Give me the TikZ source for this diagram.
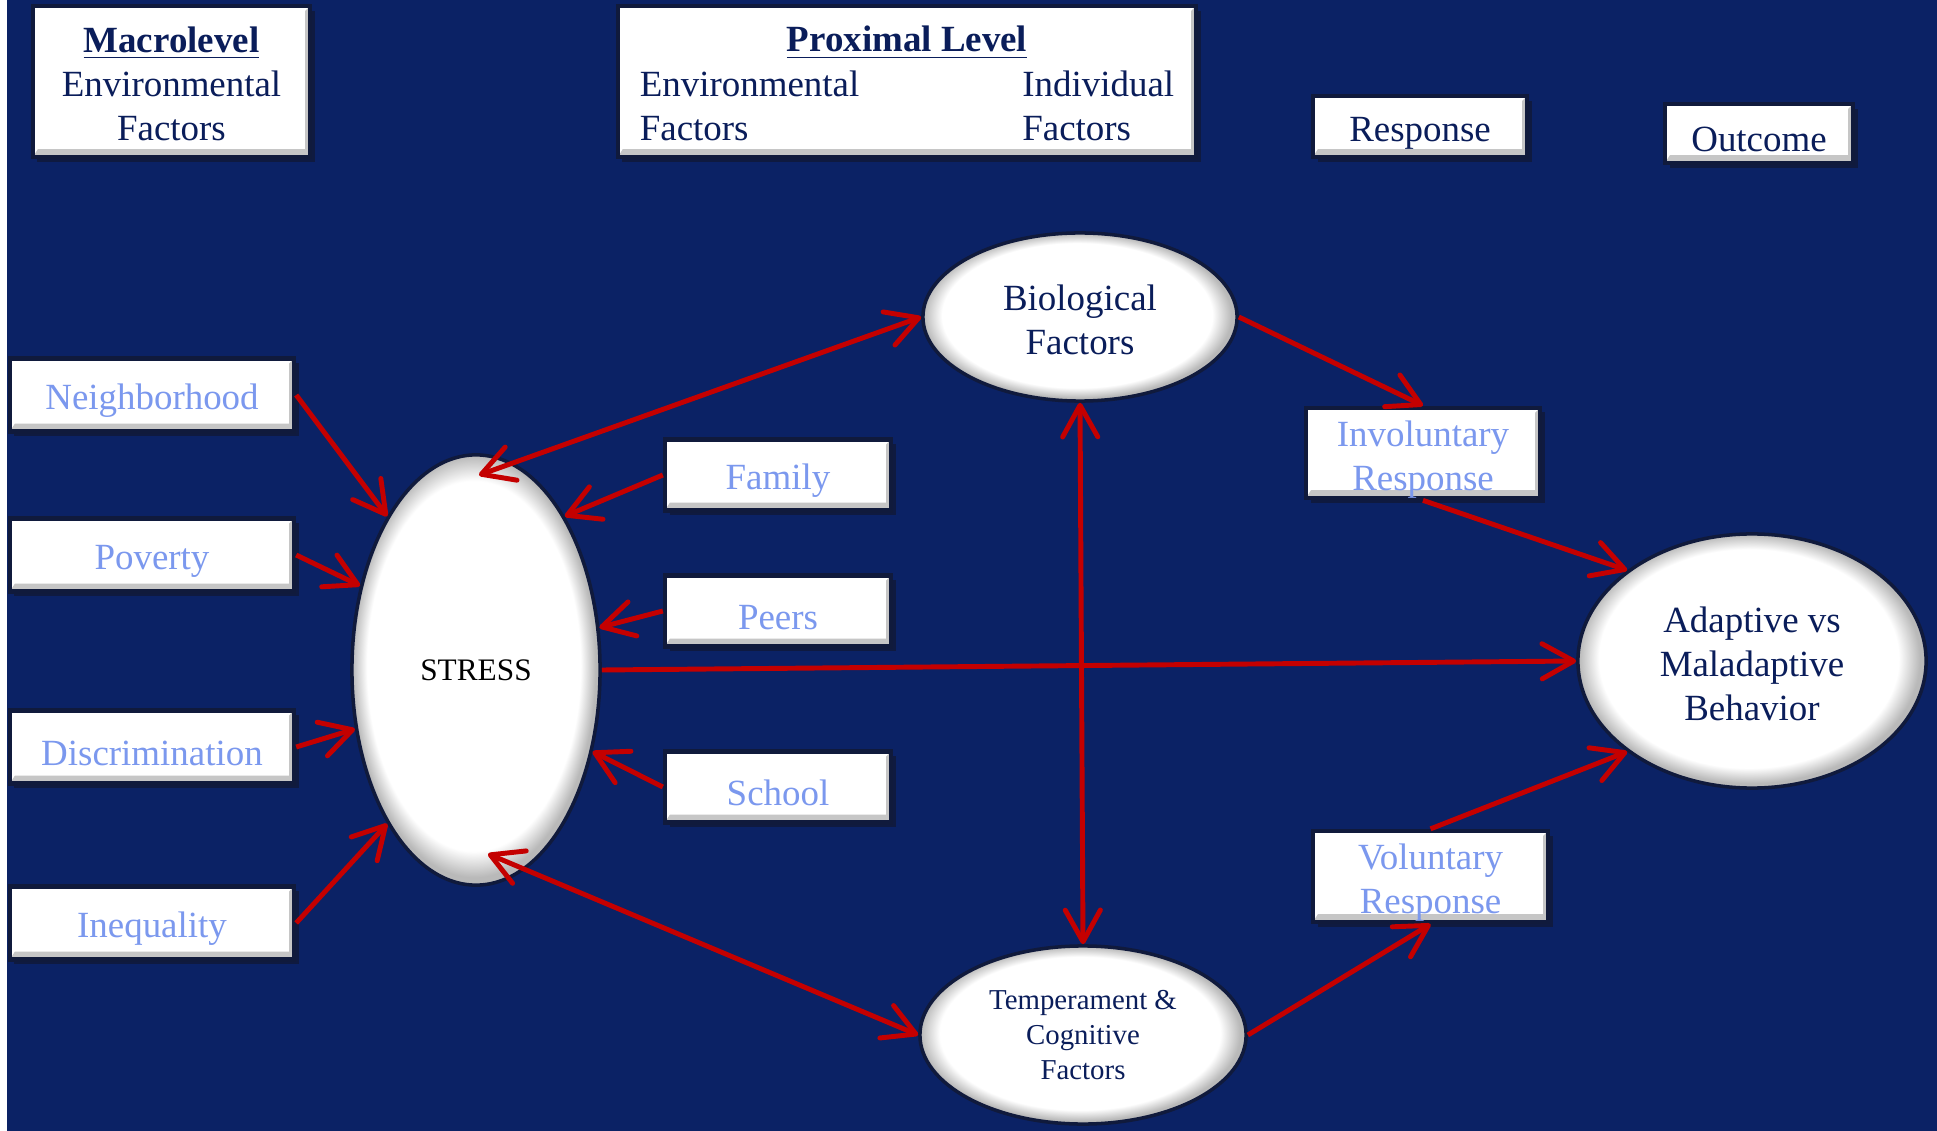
\documentclass[tikz,border=0pt]{standalone}
\usepackage{fontspec}
\setmainfont{Liberation Serif}
\usetikzlibrary{shapes.geometric,arrows.meta,shadows}

\definecolor{bgnavy}{HTML}{0B2265}
\definecolor{textnavy}{HTML}{0A1D5A}
\definecolor{paleblue}{HTML}{7B98EE}
\definecolor{linkred}{HTML}{C40000}
\definecolor{rimnavy}{HTML}{101A3C}

\newcommand{\mainsize}{\fontsize{10.5}{12.6}\selectfont}
\newcommand{\tempsize}{\fontsize{8.2}{9.9}\selectfont}
\newcommand{\stresssize}{\fontsize{8.9}{10.7}\selectfont}
\newcommand{\toprule}[1]{\rule{0pt}{#1}}

\pgfdeclareradialshading{ballrim}{\pgfpoint{-0.8bp}{0.8bp}}{color(0bp)=(white); color(21.5bp)=(white); color(24.5bp)=(gray!55); color(50bp)=(gray!55)}

\tikzset{
  bevelbox/.style={rectangle, fill=white, draw=rimnavy, line width=1.2pt, inner sep=0pt,
    drop shadow={shadow xshift=1.3pt, shadow yshift=-1.3pt, fill=rimnavy, opacity=0.9},
    path picture={
      \fill[gray!45] (path picture bounding box.south west) -- (path picture bounding box.south east)
        -- (path picture bounding box.north east) -- ([shift={(-5,5)}]path picture bounding box.north east)
        -- ([shift={(-5,-8)}]path picture bounding box.south east) -- ([shift={(5,-8)}]path picture bounding box.south west) -- cycle;
    }},
  lowered/.style={execute at begin node={\rule{0pt}{#1}}},
  headbox/.style={bevelbox, text=textnavy, font=\mainsize, align=center},
  factorbox/.style={bevelbox, text=paleblue, font=\mainsize, align=center},
  bubble/.style={ellipse, shading=ballrim, draw=rimnavy, line width=1pt, inner sep=0pt, text=textnavy, align=center},
  link/.style={draw=linkred, line width=1.4pt},
  >={Straight Barb[length=9pt,width=10pt,round]}
}

\begin{document}
\begin{tikzpicture}[x=0.01cm, y=-0.01cm]

\useasboundingbox (0,0) rectangle (1937,1131);
\fill[white] (0,0) rectangle (1937,1131);
\fill[bgnavy] (7,0) rectangle (1937,1131);

% column heads
\node[headbox, minimum width=2.77cm, minimum height=1.51cm] (macro) at (171.5,81.5)
  {\toprule{8.6pt}\underline{\textbf{Macrolevel}}\\Environmental\\Factors};
\node[headbox, minimum width=5.78cm, minimum height=1.51cm] (proximal) at (907,81.5)
  {\begin{tabular}{@{}l@{\hspace{1.63cm}}l@{}}
   \multicolumn{2}{c}{\toprule{12.2pt}\underline{\textbf{Proximal Level}}}\\
   Environmental & Individual\\
   Factors & Factors
   \end{tabular}};
\node[headbox, lowered=10.5pt, minimum width=2.14cm, minimum height=0.61cm] (response) at (1420,126.5) {Response};
\node[headbox, lowered=10.5pt, minimum width=1.88cm, minimum height=0.59cm] (outcome) at (1759,133.5) {Outcome};

% macrolevel factors
\node[factorbox, lowered=10.5pt, minimum width=2.84cm, minimum height=0.73cm] (neigh) at (152,395) {Neighborhood};
\node[factorbox, lowered=10.5pt, minimum width=2.84cm, minimum height=0.73cm] (poverty) at (152,555) {Poverty};
\node[factorbox, lowered=10.5pt, minimum width=2.84cm, minimum height=0.73cm] (discrim) at (152,747) {Discrimination};
\node[factorbox, lowered=10.5pt, minimum width=2.84cm, minimum height=0.73cm] (inequal) at (152,923) {Inequality};

% proximal factors
\node[factorbox, lowered=10.5pt, minimum width=2.26cm, minimum height=0.71cm] (family) at (778,475) {Family};
\node[factorbox, lowered=10.5pt, minimum width=2.26cm, minimum height=0.71cm] (peers) at (778,611) {Peers};
\node[factorbox, lowered=10.5pt, minimum width=2.26cm, minimum height=0.71cm] (school) at (778,787) {School};

% responses
\node[factorbox, minimum width=2.34cm, minimum height=0.90cm] (invol) at (1423,453) {\toprule{10.9pt}Involuntary\\Response};
\node[factorbox, minimum width=2.35cm, minimum height=0.91cm] (volun) at (1430.5,876.5) {\toprule{10.9pt}Voluntary\\Response};

% ellipses
\node[bubble, minimum width=2.48cm, minimum height=4.30cm, text=black, font=\stresssize] (stress) at (476,670) {STRESS};
\node[bubble, minimum width=3.14cm, minimum height=1.68cm, font=\mainsize] (bio) at (1080,317) {\toprule{8.9pt}Biological\\Factors};
\node[bubble, minimum width=3.26cm, minimum height=1.78cm, font=\tempsize] (temp) at (1083,1035) {Temperament \&\\Cognitive\\Factors};
\node[bubble, minimum width=3.48cm, minimum height=2.54cm, font=\mainsize] (adapt) at (1752,661) {\toprule{8.9pt}Adaptive vs\\Maladaptive\\Behavior};

% arrows into stress
\draw[link,->] (neigh.east) -- (stress.120);
\draw[link,->] (poverty.east) -- (stress.144);
\draw[link,->] (discrim.east) -- (stress.206);
\draw[link,->] (inequal.east) -- (stress.240);
\draw[link,->] (family.west) -- (stress.60);
\draw[link,->] (peers.west) -- (stress.19);
\draw[link,->] (school.west) -- (stress.325);

% stress to individual factors and outcome
\draw[link,<->] ([shift={(3,22)}]stress.north) -- (bio.west);
\draw[link,<->] ([shift={(12,-33)}]stress.south) -- (temp.west);
\draw[link,->] (stress.east) -- (adapt.west);
\draw[link,<->] (bio.south) -- (temp.north);

% responses
\draw[link,->] (bio.east) -- (invol.north);
\draw[link,->] (invol.south) -- (adapt.144);
\draw[link,->] (temp.east) -- (volun.south);
\draw[link,->] (volun.north) -- (adapt.216);

\end{tikzpicture}
\end{document}
